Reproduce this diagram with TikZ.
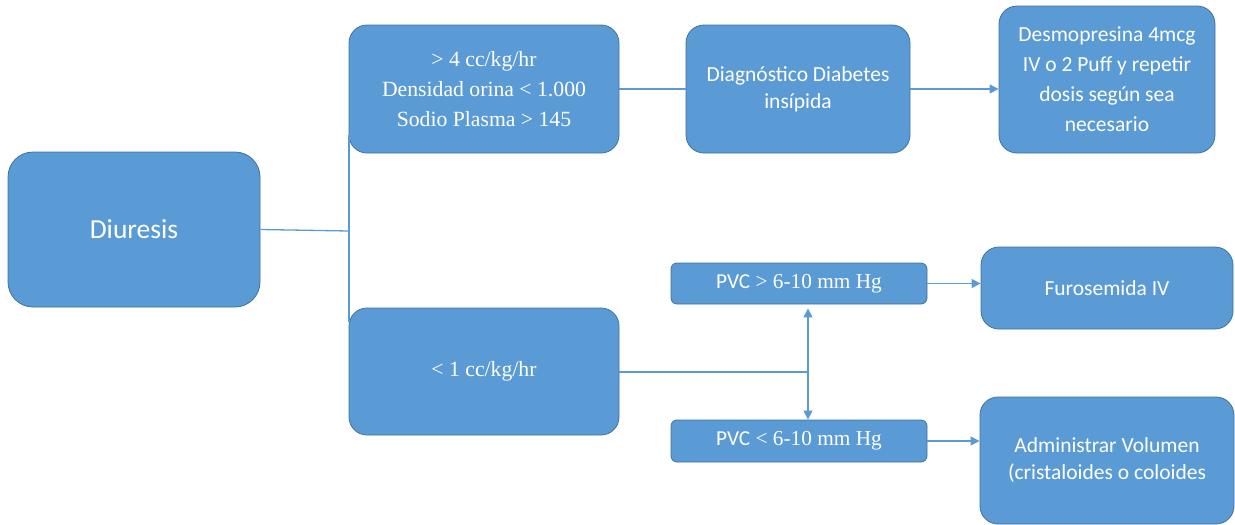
\documentclass[tikz,border=0pt]{standalone}
\usepackage{fontspec}
\setmainfont{Liberation Serif}
\newfontfamily\calibrifont{Carlito}
\usetikzlibrary{arrows.meta}
\definecolor{boxfill}{RGB}{91,155,213}
\definecolor{boxedge}{RGB}{65,113,156}
\definecolor{linkcol}{RGB}{91,155,213}
\tikzset{
  box/.style={draw=boxedge, line width=0.8pt, fill=boxfill, text=white,
    rounded corners=18pt, align=center, inner sep=0pt},
  sansbox/.style={box, font=\calibrifont\fontsize{21.5}{27}\selectfont},
  serifbox/.style={box, font=\fontsize{21.7}{30}\selectfont},
  pvcbox/.style={box, rounded corners=6pt, font=\fontsize{21.3}{24}\selectfont},
  link/.style={draw=linkcol, line width=1.3pt},
  arrowlink/.style={link, -{Triangle[length=9pt,width=9pt]}},
  twoway/.style={link, {Triangle[length=9pt,width=9pt]}-{Triangle[length=9pt,width=9pt]}}
}
\begin{document}
\begin{tikzpicture}[x=1pt,y=-1pt]
\useasboundingbox (0,0) rectangle (1235,525);

% left root
\node[box, rounded corners=25pt, minimum width=252pt, minimum height=155pt,
      font=\calibrifont\fontsize{27.5}{32}\selectfont] (diur) at (134,229.5) {Diuresis};

% high output branch
\node[serifbox, minimum width=270pt, minimum height=128pt] (hi) at (484,89)
  {> 4 cc/kg/hr\\Densidad orina < 1.000\\Sodio Plasma > 145};
\node[sansbox, minimum width=224pt, minimum height=128pt] (diag) at (798,89)
  {Diagnóstico Diabetes\\insípida};
\node[sansbox, font=\calibrifont\fontsize{21.5}{30}\selectfont,
      minimum width=216pt, minimum height=147pt] (desmo) at (1107,79.5)
  {Desmopresina 4mcg\\IV o 2 Puff y repetir\\dosis según sea\\necesario};

% low output branch
\node[serifbox, minimum width=270pt, minimum height=127pt] (lo) at (484,371.5)
  {< 1 cc/kg/hr};
\node[pvcbox, minimum width=256pt, minimum height=41pt] (pvchi) at (799,283.5)
  {{\calibrifont PVC} > 6-10 mm Hg};
\node[pvcbox, minimum width=256pt, minimum height=42pt] (pvclo) at (799,441)
  {{\calibrifont PVC} < 6-10 mm Hg};
\node[sansbox, minimum width=252pt, minimum height=82pt] (furo) at (1107,288)
  {Furosemida IV};
\node[sansbox, minimum width=254pt, minimum height=127pt] (adm) at (1107,460.5)
  {Administrar Volumen\\(cristaloides o coloides};

% connectors
\coordinate (fork) at (349,231);
\coordinate (forktop) at (349,135);
\coordinate (forkbot) at (349,322);
\coordinate (split) at (808,372);

\draw[link] (diur.east) -- (fork);
\draw[link] (forktop) -- (forkbot);
\draw[link] (hi.east) -- (diag.west);
\draw[arrowlink] (diag.east) -- (diag.east -| desmo.west);
\draw[link] (lo.east |- split) -- (split);
\draw[twoway] ([yshift=-4pt]pvchi.south -| split) -- (pvclo.north -| split);
\draw[arrowlink] (pvchi.east) -- (pvchi.east -| furo.west);
\draw[arrowlink] (pvclo.east) -- (pvclo.east -| adm.west);
\end{tikzpicture}
\end{document}
